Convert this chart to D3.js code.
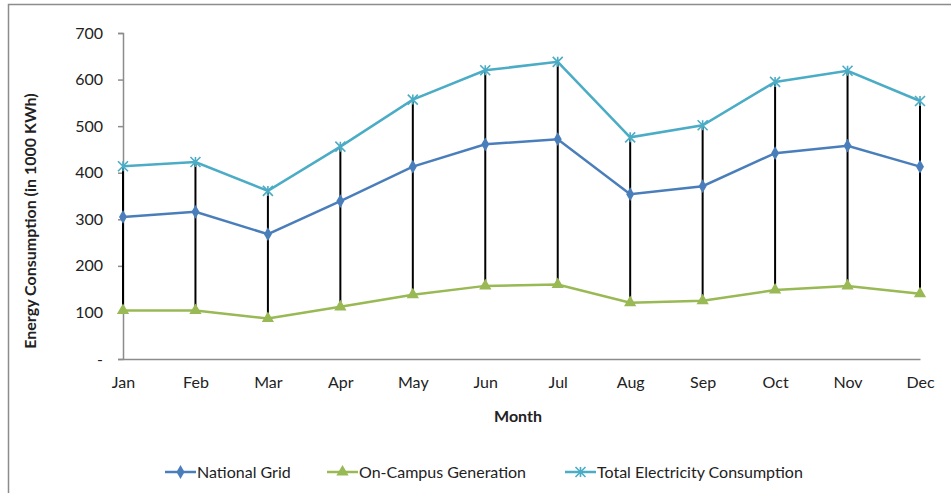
<!DOCTYPE html>
<html>
<head>
<meta charset="utf-8">
<script src="https://cdn.jsdelivr.net/npm/d3@7"></script>
<style>
  body { margin: 0; background: #fff; }
  text { font-family: Lato, "Open Sans", sans-serif; fill: #222; }
</style>
</head>
<body>
<div id="chart"></div>
<script>
// Data
const months = ["Jan", "Feb", "Mar", "Apr", "May", "Jun", "Jul", "Aug", "Sep", "Oct", "Nov", "Dec"]
const nationalGrid = [305, 316, 268, 339, 413, 461, 472, 354, 371, 442, 458, 413]
const onCampus = [104, 104, 87, 112, 138, 157, 160, 121, 125, 148, 157, 140]
const totalConsumption = [414, 423, 361, 456, 557, 620, 638, 476, 502, 595, 619, 554]
const yTicks = [0, 100, 200, 300, 400, 500, 600, 700]

const width = 951
const height = 493

const svg = d3.select("#chart")
    .append("svg")
    .attr("width", width)
    .attr("height", height)

// chart frame
svg.append("rect")
    .attr("x", 8.5).attr("y", 4.5)
    .attr("width", 960).attr("height", 500)
    .attr("fill", "none")
    .attr("stroke", "#8c8c8c")
    .attr("stroke-width", 1.5)

var x = d3.scalePoint()
    .domain(months)
    .range([123, 920])

var y = d3.scaleLinear()
    .domain([0, 700])
    .range([359, 33])

// y axis
var yAxis = svg.append("g")
    .attr("transform", "translate(123,0)")
    .call(d3.axisLeft(y).tickValues(yTicks).tickSize(5).tickPadding(15)
        .tickFormat(d => d === 0 ? "-" : d))
yAxis.select(".domain").attr("stroke", "#8c8c8c").attr("stroke-width", 1.5)
yAxis.selectAll(".tick line").attr("stroke", "#8c8c8c").attr("stroke-width", 1.5)
yAxis.selectAll("text").style("font-size", "16px").attr("fill", "#222")

// x axis
var xAxis = svg.append("g")
    .attr("transform", "translate(0,359)")
    .call(d3.axisBottom(x).tickSize(0).tickPadding(18))
xAxis.select(".domain").attr("stroke", "#8c8c8c").attr("stroke-width", 1.5)
xAxis.selectAll("text").style("font-size", "16px").attr("fill", "#222")

// axis titles
svg.append("text")
    .attr("transform", "translate(36,221) rotate(-90)")
    .attr("text-anchor", "middle")
    .style("font-size", "16px")
    .style("font-weight", "bold")
    .text("Energy Consumption (in 1000 KWh)")

svg.append("text")
    .attr("x", 518).attr("y", 422)
    .attr("text-anchor", "middle")
    .style("font-size", "16px")
    .style("font-weight", "bold")
    .text("Month")

// high-low lines
svg.append("g")
    .selectAll("line")
    .data(months)
    .enter()
    .append("line")
    .attr("x1", d => x(d)).attr("x2", d => x(d))
    .attr("y1", (d, i) => y(totalConsumption[i]))
    .attr("y2", (d, i) => y(onCampus[i]))
    .attr("stroke", "#000")
    .attr("stroke-width", 2)

const series = [
    { name: "National Grid", values: nationalGrid, color: "#4a7ebb", symbol: d3.symbolDiamond, size: 55 },
    { name: "On-Campus Generation", values: onCampus, color: "#98b954", symbol: d3.symbolTriangle, size: 65 },
    { name: "Total Electricity Consumption", values: totalConsumption, color: "#4bacc6", symbol: "star", size: 5 }
]

var line = d3.line()
    .x((d, i) => x(months[i]))
    .y(d => y(d))

function drawMarker(g, s, cx, cy) {
    if (s.symbol === "star") {
        var r = s.size
        g.append("path")
            .attr("d", "M" + (cx - r) + "," + (cy - r) + "L" + (cx + r) + "," + (cy + r) +
                "M" + (cx - r) + "," + (cy + r) + "L" + (cx + r) + "," + (cy - r) +
                "M" + cx + "," + (cy - r) + "L" + cx + "," + (cy + r))
            .attr("stroke", s.color)
            .attr("stroke-width", 1.6)
            .attr("fill", "none")
    } else {
        g.append("path")
            .attr("d", d3.symbol().type(s.symbol).size(s.size)())
            .attr("transform", "translate(" + cx + "," + cy + ")")
            .attr("fill", s.color)
    }
}

series.forEach(function (s) {
    svg.append("path")
        .datum(s.values)
        .attr("d", line)
        .attr("fill", "none")
        .attr("stroke", s.color)
        .attr("stroke-width", 2.5)
    var g = svg.append("g")
    s.values.forEach(function (v, i) {
        drawMarker(g, s, x(months[i]), y(v))
    })
})

// legend
const legendX = [165, 327, 565]
series.forEach(function (s, i) {
    var lx = legendX[i]
    var g = svg.append("g")
    g.append("line")
        .attr("x1", lx).attr("x2", lx + 31)
        .attr("y1", 472).attr("y2", 472)
        .attr("stroke", s.color)
        .attr("stroke-width", 2.5)
    drawMarker(g, s, lx + 15.5, 472)
    g.append("text")
        .attr("x", lx + 32).attr("y", 478)
        .style("font-size", "16px")
        .text(s.name)
})
</script>
</body>
</html>
